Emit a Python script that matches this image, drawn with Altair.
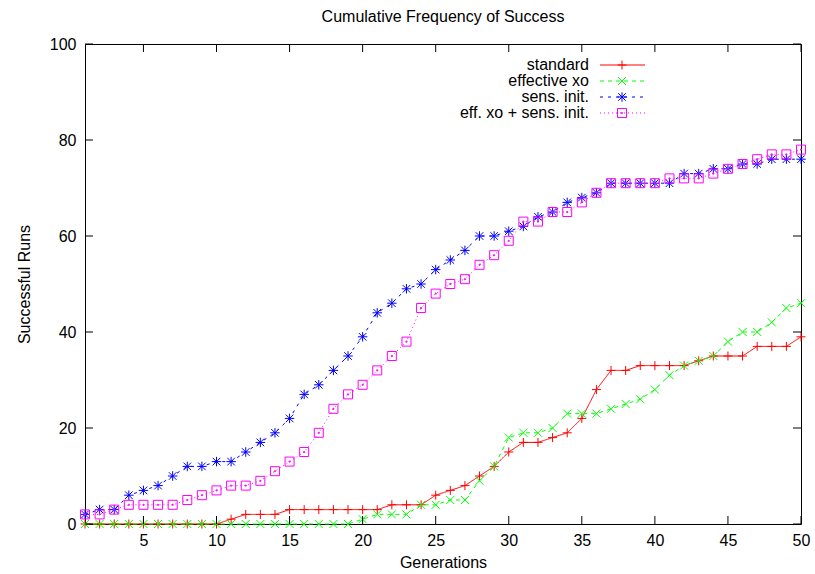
import altair as alt
import pandas as pd

# ---------------- data ----------------
generations = list(range(1, 51))

standard = [0, 0, 0, 0, 0, 0, 0, 0, 0, 0,
            1, 2, 2, 2, 3, 3, 3, 3, 3, 3,
            3, 4, 4, 4, 6, 7, 8, 10, 12, 15,
            17, 17, 18, 19, 22, 28, 32, 32, 33, 33,
            33, 33, 34, 35, 35, 35, 37, 37, 37, 39]

effective_xo = [0, 0, 0, 0, 0, 0, 0, 0, 0, 0,
                0, 0, 0, 0, 0, 0, 0, 0, 0, 1,
                2, 2, 2, 4, 4, 5, 5, 9, 12, 18,
                19, 19, 20, 23, 23, 23, 24, 25, 26, 28,
                31, 33, 34, 35, 38, 40, 40, 42, 45, 46]

sens_init = [2, 3, 3, 6, 7, 8, 10, 12, 12, 13,
             13, 15, 17, 19, 22, 27, 29, 32, 35, 39,
             44, 46, 49, 50, 53, 55, 57, 60, 60, 61,
             62, 64, 65, 67, 68, 69, 71, 71, 71, 71,
             71, 73, 73, 74, 74, 75, 75, 76, 76, 76]

eff_xo_sens_init = [2, 2, 3, 4, 4, 4, 4, 5, 6, 7,
                    8, 8, 9, 11, 13, 15, 19, 24, 27, 29,
                    32, 35, 38, 45, 48, 50, 51, 54, 56, 59,
                    63, 63, 65, 65, 67, 69, 71, 71, 71, 71,
                    72, 72, 72, 73, 74, 75, 76, 77, 77, 78]

series_names = ["standard", "effective xo", "sens. init.", "eff. xo + sens. init."]
series_values = [standard, effective_xo, sens_init, eff_xo_sens_init]

x_ticks = [5, 10, 15, 20, 25, 30, 35, 40, 45, 50]
y_ticks = [0, 20, 40, 60, 80, 100]

title_text = "Cumulative Frequency of Success"
x_title = "Generations"
y_title = "Successful Runs"

# ---------------- styles ----------------
colors = ["#ff0000", "#00ff00", "#0000ff", "#ff00ff"]
dashes = [[1, 0], [4, 4], [3, 5], [1, 3]]
shapes = [
    "M-1,0L1,0M0,-1L0,1",
    "M-1,-1L1,1M-1,1L1,-1",
    "M-1,0L1,0M0,-1L0,1M-0.8,-0.8L0.8,0.8M-0.8,0.8L0.8,-0.8",
    "M-1,-1L1,-1L1,1L-1,1Z M-0.12,-0.12L0.12,-0.12L0.12,0.12L-0.12,0.12Z",
]
marker_sizes = [81, 64, 90, 81]

W, H = 716, 480
FONT = "Liberation Sans"
FS = 16
TICK = 8

x_scale = alt.Scale(domain=[1, 50], nice=False, zero=False)
y_scale = alt.Scale(domain=[0, 100], nice=False, zero=False)

x_axis = alt.Axis(values=x_ticks, title=x_title, ticks=False, domain=False, grid=False,
                  labelPadding=8, titlePadding=6, labelFlush=False,
                  labelFont=FONT, labelFontSize=FS, labelColor="black",
                  titleFont=FONT, titleFontSize=FS, titleFontWeight="normal", titleColor="black")
y_axis = alt.Axis(values=y_ticks, title=y_title, ticks=False, domain=False, grid=False,
                  labelPadding=9, titlePadding=17,
                  labelFont=FONT, labelFontSize=FS, labelColor="black",
                  titleFont=FONT, titleFontSize=FS, titleFontWeight="normal", titleColor="black")

layers = []
for i, (name, vals) in enumerate(zip(series_names, series_values)):
    d = pd.DataFrame({"gen": generations, "runs": vals, "series": name})
    base = alt.Chart(d).encode(
        x=alt.X("gen:Q", scale=x_scale, axis=x_axis, title=x_title),
        y=alt.Y("runs:Q", scale=y_scale, axis=y_axis, title=y_title),
    )
    layers.append(base.mark_line(color=colors[i], strokeWidth=1, strokeDash=dashes[i]))
    layers.append(base.mark_point(shape=shapes[i], color=colors[i], filled=False,
                                  strokeWidth=1, size=marker_sizes[i], opacity=1))

# inward mirrored ticks
xt = pd.DataFrame({"gen": x_ticks})
yt = pd.DataFrame({"runs": y_ticks})
tick_color = "black"
xenc = alt.X("gen:Q", scale=x_scale, axis=x_axis, title=x_title)
yenc = alt.Y("runs:Q", scale=y_scale, axis=y_axis, title=y_title)
layers.append(alt.Chart(xt).mark_rule(color=tick_color, strokeWidth=1).encode(
    x=xenc, y=alt.value(H - TICK), y2=alt.value(H)))
layers.append(alt.Chart(xt).mark_rule(color=tick_color, strokeWidth=1).encode(
    x=xenc, y=alt.value(0), y2=alt.value(TICK)))
layers.append(alt.Chart(yt).mark_rule(color=tick_color, strokeWidth=1).encode(
    y=yenc, x=alt.value(0), x2=alt.value(TICK)))
layers.append(alt.Chart(yt).mark_rule(color=tick_color, strokeWidth=1).encode(
    y=yenc, x=alt.value(W - TICK), x2=alt.value(W)))

# gnuplot-style key (labels on the left, samples on the right)
key_text_x, key_line_x1, key_line_x2, key_mark_x = 504, 515, 560, 537
for i, name in enumerate(series_names):
    ky = 21 + 16 * i
    kd = pd.DataFrame({"series": [name]})
    layers.append(alt.Chart(kd).mark_text(align="right", baseline="middle", font=FONT,
                                          fontSize=FS, color="black").encode(
        text="series:N", x=alt.value(key_text_x), y=alt.value(ky)))
    layers.append(alt.Chart(kd).mark_rule(color=colors[i], strokeWidth=1, strokeDash=dashes[i]).encode(
        x=alt.value(key_line_x1), x2=alt.value(key_line_x2), y=alt.value(ky)))
    layers.append(alt.Chart(kd).mark_point(shape=shapes[i], color=colors[i], filled=False,
                                           strokeWidth=1, size=marker_sizes[i], opacity=1).encode(
        x=alt.value(key_mark_x), y=alt.value(ky)))

chart = alt.layer(*layers).properties(
    width=W, height=H,
    padding={"left": 85, "top": 44, "right": 14, "bottom": 50},
    autosize=alt.AutoSizeParams(type="none"),
    background="white",
    title=alt.TitleParams(title_text, font=FONT, fontSize=FS, fontWeight="normal",
                          color="black", anchor="middle", frame="group", offset=11),
).configure_view(
    stroke="black", strokeWidth=1
)

chart.save("out.html", embed_options={"renderer": "svg", "actions": False})
